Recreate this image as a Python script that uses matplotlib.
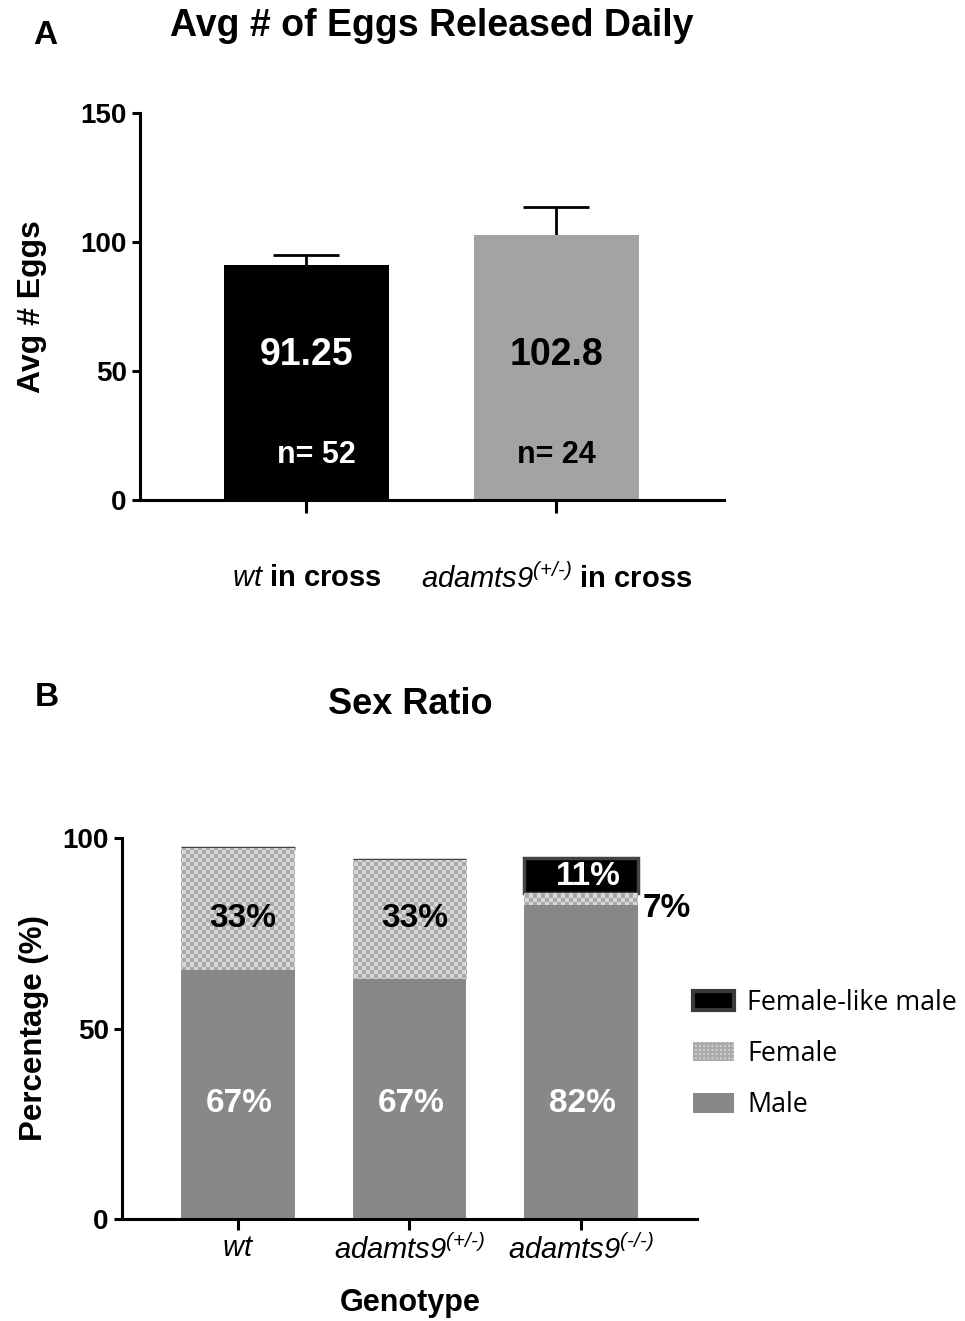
import numpy as np
import matplotlib
matplotlib.use('Agg')
import matplotlib.pyplot as plt
from matplotlib.colors import ListedColormap
from matplotlib.patches import Patch

plt.rcParams['font.family'] = ['Liberation Sans', 'DejaVu Sans']
plt.rcParams['mathtext.fontset'] = 'custom'
plt.rcParams['mathtext.rm'] = 'Liberation Sans'
plt.rcParams['mathtext.it'] = 'Liberation Sans:italic'
plt.rcParams['mathtext.sf'] = 'Liberation Sans:italic'
plt.rcParams['mathtext.bf'] = 'Liberation Sans:bold'
plt.rcParams['hatch.linewidth'] = 1.5

HY = '\u2010'  # plain hyphen, avoids the math minus spacing

# panel A data
egg_groups = [r'$\mathsf{wt}$ in cross',
              r'$\mathsf{adamts9}^{\mathsf{(+/' + HY + ')}}$ in cross']
egg_mean = [91.25, 102.8]
egg_err = [3.8, 10.8]
egg_n = [52, 24]
egg_colors = ['#000000', '#a3a3a3']

# panel B data (percent, stacked)
genotypes = [r'$\mathsf{wt}$',
             r'$\mathsf{adamts9}^{\mathsf{(+/' + HY + ')}}$',
             r'$\mathsf{adamts9}^{\mathsf{(' + HY + '/' + HY + ')}}$']
male = [65.4, 63.0, 82.4]
female = [32.0, 31.2, 3.2]
female_like = [0, 0, 9.2]
male_lbl = ['67%', '67%', '82%']
female_lbl = ['33%', '33%', '7%']
flm_lbl = ['', '', '11%']

fig = plt.figure(figsize=(9.65, 13.21), dpi=100)

# ---------- A ----------
ax1 = fig.add_axes([0.1451, 0.6215, 0.605, 0.293])
x1 = np.arange(len(egg_mean))
ax1.bar(x1, egg_mean, width=0.66, color=egg_colors, zorder=2)
# symmetric bars drawn behind the columns so only the upper half shows
ax1.errorbar(x1, egg_mean, yerr=egg_err, fmt='none', ecolor='black',
             elinewidth=2, capsize=24, capthick=2, zorder=1)
ax1.set_xlim(-0.666, 1.67)
ax1.set_ylim(0, 150)
ax1.set_yticks([0, 50, 100, 150])
ax1.set_xticks(x1)
ax1.set_xticklabels(egg_groups, fontsize=21, fontweight='bold')
for s in ['top', 'right']:
    ax1.spines[s].set_visible(False)
for s in ['left', 'bottom']:
    ax1.spines[s].set_linewidth(2.2)
ax1.tick_params(axis='x', length=9, width=2.2, pad=37)
ax1.tick_params(axis='y', length=6, width=2.2, labelsize=20)
for t in ax1.get_yticklabels():
    t.set_fontweight('bold')
ax1.set_ylabel('Avg # Eggs', fontsize=23, fontweight='bold', labelpad=24)

val_colors = ['white', 'black']
for i in range(len(egg_mean)):
    ax1.text(x1[i], 56.0, '%g' % egg_mean[i], color=val_colors[i], fontsize=27,
             fontweight='bold', ha='center', va='center', zorder=3)
    ax1.text(x1[i] + (0.04 if i == 0 else 0), 17.4, 'n= %d' % egg_n[i], color=val_colors[i],
             fontsize=22, fontweight='bold', ha='center', va='center', zorder=3)

fig.text(432 / 965, 1 - 26 / 1321, 'Avg # of Eggs Released Daily', fontsize=27,
         fontweight='bold', ha='center', va='center')
fig.text(45 / 965, 1 - 36 / 1321, 'A', fontsize=24, fontweight='bold', ha='center', va='center')

# ---------- B ----------
ax2 = fig.add_axes([0.1264, 0.0772, 0.5959, 0.2884])
x2 = np.arange(len(male))
b_male = ax2.bar(x2, male, width=0.66, color='#888888', zorder=2, label='Male')
b_fem = ax2.bar(x2, female, bottom=male, width=0.66, color='#c4c4c4', zorder=2, label='Female')
bot2 = np.array(male) + np.array(female)
b_flm = ax2.bar(x2, female_like, bottom=bot2, width=0.66, color='#000000',
                edgecolor='#444444', linewidth=2.5, zorder=2, label='Female-like male')

# checker texture on the female segments
cm = ListedColormap(['#d8d8d8', '#aaaaaa'])
grid = np.add.outer(np.arange(95), np.arange(144)) % 2
for p in b_fem.patches:
    im = ax2.imshow(grid, cmap=cm, extent=(0, 1, 0, 1), transform=ax2.transAxes,
                    interpolation='nearest', aspect='auto', zorder=2.5)
    im.set_clip_path(p)

ax2.set_xlim(-0.676, 2.676)
ax2.set_ylim(0, 100)
ax2.set_yticks([0, 50, 100])
ax2.set_xticks(x2)
ax2.set_xticklabels(genotypes, fontsize=21)
for s in ['top', 'right']:
    ax2.spines[s].set_visible(False)
for s in ['left', 'bottom']:
    ax2.spines[s].set_linewidth(2.2)
ax2.tick_params(axis='x', length=8, width=2.2, pad=3)
ax2.tick_params(axis='y', length=6, width=2.2, labelsize=20)
for t in ax2.get_yticklabels():
    t.set_fontweight('bold')
ax2.set_ylabel('Percentage (%)', fontsize=22.5, fontweight='bold', labelpad=10)

for i in range(len(male)):
    ax2.text(x2[i] + 0.01, 30.4, male_lbl[i], color='white', fontsize=24,
             fontweight='bold', ha='center', va='center', zorder=4)
    if female_lbl[i] and i < 2:
        ax2.text(x2[i] + 0.03, 79.0, female_lbl[i], color='black', fontsize=24,
                 fontweight='bold', ha='center', va='center', zorder=4)
    if flm_lbl[i]:
        ax2.text(x2[i] + 0.04, 90.0, flm_lbl[i], color='white', fontsize=24,
                 fontweight='bold', ha='center', va='center', zorder=4)
ax2.text(x2[2] + 0.5, 81.6, female_lbl[2], color='black', fontsize=24,
         fontweight='bold', ha='center', va='center', zorder=4, clip_on=False)

handles = [Patch(facecolor='#000000', edgecolor='#3a3a3a', linewidth=3),
           Patch(facecolor='#d0d0d0', edgecolor='#aaaaaa', hatch='++++', linewidth=0),
           Patch(facecolor='#888888', linewidth=0)]
fig.legend(handles, ['Female-like male', 'Female', 'Male'], loc='center left',
           bbox_to_anchor=(680 / 965, 1 - 1054 / 1321), frameon=False,
           prop={'family': 'Open Sans', 'size': 19.3}, handlelength=1.5, handleheight=0.74,
           handletextpad=0.5, labelspacing=0.87, borderpad=0)

fig.text(410 / 965, 1 - 705 / 1321, 'Sex Ratio', fontsize=26, fontweight='bold',
         ha='center', va='center')
fig.text(47 / 965, 1 - 697 / 1321, 'B', fontsize=24, fontweight='bold', ha='center', va='center')
fig.text(410 / 965, 1 - 1303 / 1321, 'Genotype', fontsize=22, fontweight='bold',
         ha='center', va='center')

fig.savefig('out.png', dpi=100)
